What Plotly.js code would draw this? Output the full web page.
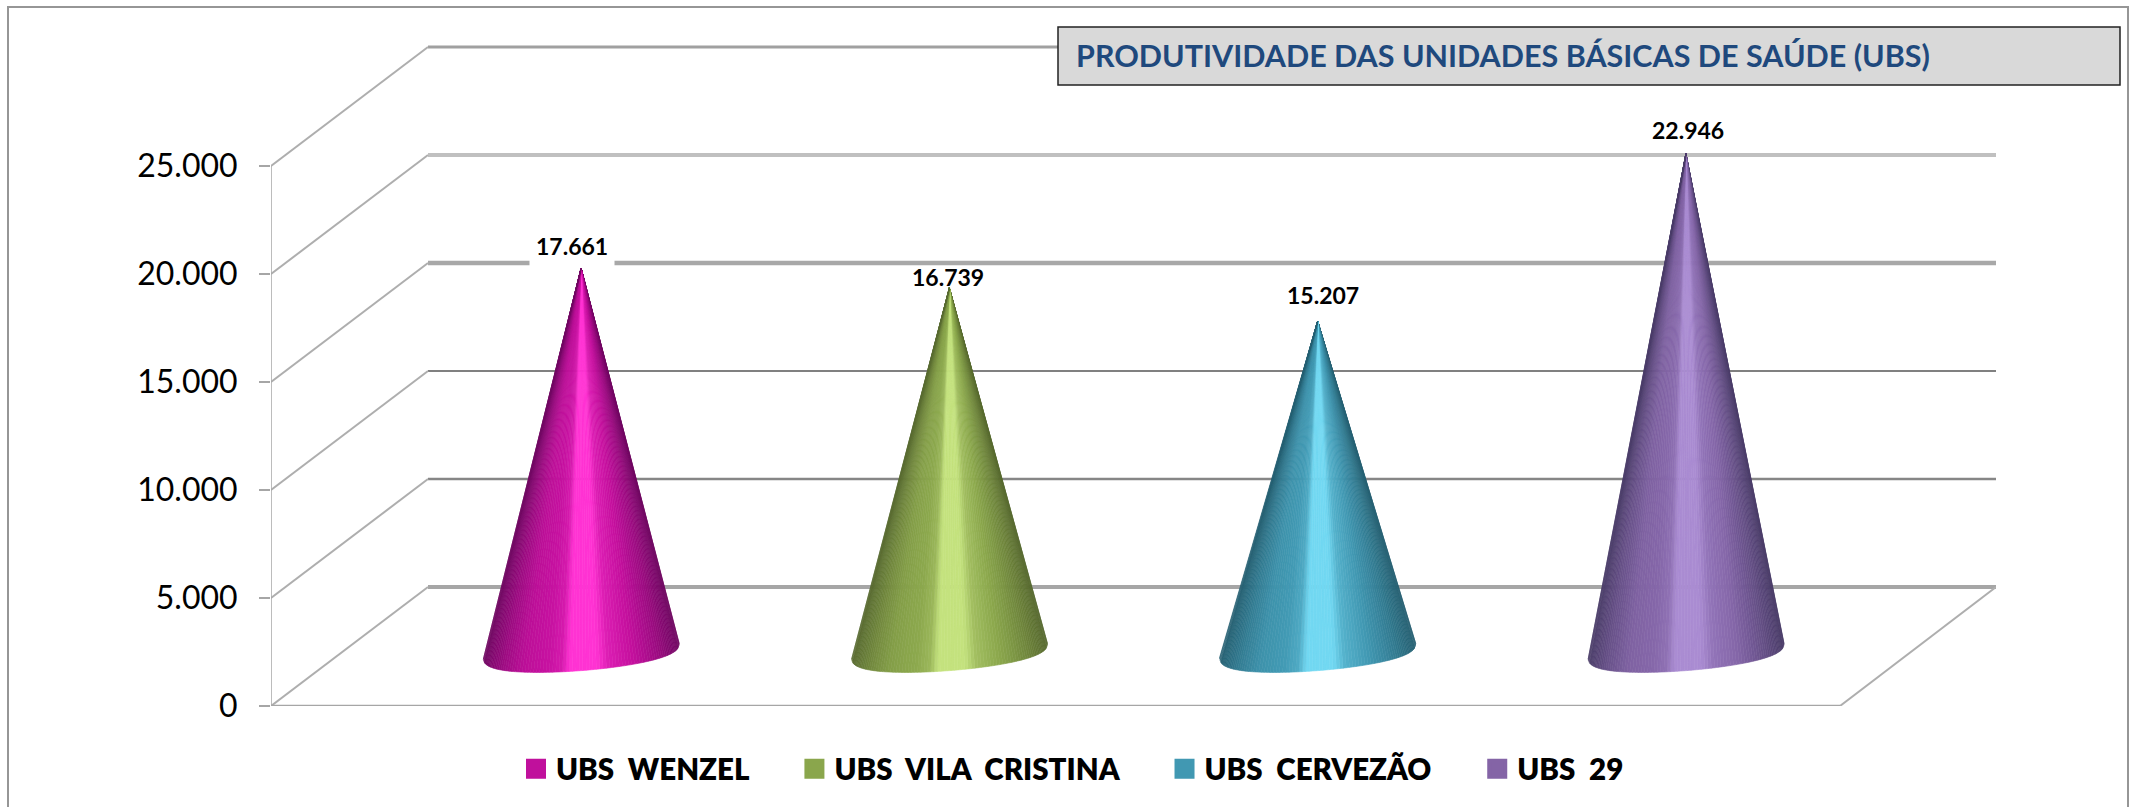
<!DOCTYPE html>
<html><head><meta charset="utf-8">
<script src="https://cdn.plot.ly/plotly-3.0.1.min.js"></script>
<style>html,body{margin:0;padding:0;background:#fff;overflow:hidden}#chart{width:2136px;height:807px}</style>
</head><body><div id="chart"></div>
<script>
// ---- data ----
const categories = ["UBS WENZEL", "UBS VILA CRISTINA", "UBS CERVEZÃO", "UBS 29"];
const values = [17661, 16739, 15207, 22946];
const tickValues = [0, 5000, 10000, 15000, 20000, 25000];
const tickLabels = ["0", "5.000", "10.000", "15.000", "20.000", "25.000"];
const chartTitle = "PRODUTIVIDADE DAS UNIDADES BÁSICAS DE SAÚDE (UBS)";

// ---- styles ----
const legendColors = ["#c0109c", "#8aa64c", "#4198b2", "#8464a6"];
const palettes = [
  {dark:[112,8,98],  mid:[196,16,158], bright:[255,51,211]},
  {dark:[88,106,48], mid:[138,166,76], bright:[196,226,126]},
  {dark:[38,96,114], mid:[65,152,178], bright:[114,216,242]},
  {dark:[74,60,104], mid:[132,102,168], bright:[170,140,210]}
];
const shadeStops = [[0,-1],[0.04,-0.75],[0.1,-0.45],[0.2,-0.1],[0.33,0.05],[0.4,0.3],[0.44,1],[0.58,1],[0.64,0.4],[0.78,-0.05],[0.9,-0.5],[1,-1]];
const wallColors = ["#a6a6a6","#868686","#808080","#a8a8a8","#c0c0c0","#a0a0a0"];
const wallWidths = [4,2.5,2,4.5,4,3];
const labelShift = [[-9,22],[-1,11],[5,26],[2,24]];

// ---- plot frame in page pixels ----
const L=271,R=1996,T=40,B=706;
const xMin=0.158,xMax=4.842,yMax=30833;
const pxX=(xMax-xMin)/(R-L), pxY=yMax/(B-T);
const depthX=157*pxX, depthY=119*pxY;       // oblique 3D offset of the back wall
const floorRight=xMin+(1840-L)*pxX;
const baseY=56.5*pxY, coneA=98, coneB=21, tilt=0.08, slices=90;
const paperX=x=>(x-L)/(R-L), paperY=y=>(B-y)/(B-T);

function lerpColor(p,w){
  const a=p.mid, b=w<0?p.dark:p.bright, k=Math.abs(w);
  return 'rgb('+a.map((v,i)=>Math.round(v+(b[i]-v)*k)).join(',')+')';
}
function shade(f){
  for(let i=1;i<shadeStops.length;i++){
    if(f<=shadeStops[i][0]){
      const [f0,w0]=shadeStops[i-1],[f1,w1]=shadeStops[i];
      return w0+(w1-w0)*(f-f0)/(f1-f0);
    }
  }
  return -1;
}

const traces=[];
const lineTrace=(x,y,color,width)=>traces.push({x,y,mode:'lines',line:{color,width},
  hoverinfo:'skip',showlegend:false,cliponaxis:false,type:'scatter'});

// back wall lines and oblique side lines
tickValues.forEach((v,i)=>{
  lineTrace([xMin+depthX,xMax],[v+depthY,v+depthY],wallColors[i],wallWidths[i]);
  lineTrace([xMin,xMin+depthX],[v,v+depthY],'#aeaeae',2);
});
lineTrace([floorRight,xMax],[0,depthY],'#aeaeae',2);
lineTrace([xMin,xMin],[0,tickValues[tickValues.length-1]],'#a6a6a6',1.5);
lineTrace([xMin,floorRight],[0,0],'#a6a6a6',2.5);

// cones: fans of thin slices from the tip down to the tilted base ellipse
categories.forEach((c,ci)=>{
  const cx=ci+1, tipY=baseY+values[ci], pal=palettes[ci];
  const pts=[];
  for(let i=0;i<=slices;i++){
    const t=Math.PI*i/slices;
    const s=Math.pow(Math.sin(t),0.7);
    const dx=coneA*Math.cos(t)+tilt*coneB*s;
    const dy=coneB*s-tilt*coneA*Math.cos(t);
    pts.push({x:cx+dx*pxX,y:baseY-dy*pxY,dx});
  }
  for(let i=0;i<slices;i++){
    const a=pts[i],b=pts[i+1];
    const f=(((a.dx+b.dx)/2)+coneA)/(2*coneA);
    const col=lerpColor(pal,shade(Math.max(0,Math.min(1,f))));
    traces.push({x:[cx,a.x,b.x,cx],y:[tipY,a.y,b.y,tipY],mode:'lines',fill:'toself',
      fillcolor:col,line:{color:col,width:0.6},hoverinfo:'skip',showlegend:false,type:'scatter'});
  }
});

// legend entries
categories.forEach((c,i)=>{
  traces.push({x:[null],y:[null],type:'scatter',mode:'markers',
    name:c.replace(/ /g,'\u00a0\u00a0')+'\u00a0\u00a0\u00a0\u00a0\u00a0\u00a0',
    marker:{symbol:'square',size:16,color:legendColors[i],line:{color:legendColors[i],width:4}}});
});

const fmt=v=>String(v).replace(/\B(?=(\d{3})+$)/g,'.');
const annotations=values.map((v,i)=>({
  x:i+1,y:baseY+v,xref:'x',yref:'y',text:'<b>'+fmt(v)+'</b>',showarrow:false,
  xanchor:'center',yanchor:'middle',xshift:labelShift[i][0],yshift:labelShift[i][1],
  font:{family:'Lato',size:23,color:'#000'},
  bgcolor:i===0?'#fff':'rgba(0,0,0,0)',borderpad:i===0?6:0
}));

const layout={
  width:2136,height:807,
  margin:{l:L,r:2136-R,t:T,b:807-B,pad:0,autoexpand:false},
  paper_bgcolor:'#fff',plot_bgcolor:'rgba(0,0,0,0)',
  font:{family:'Lato',color:'#000'},
  title:{text:chartTitle,xref:'container',yref:'container',x:1076/2136,xanchor:'left',
    y:1-56/807,yanchor:'middle',font:{family:'Lato',size:30.5,weight:700,color:'#1f497d'},pad:{l:0,r:0,t:0,b:0}},
  showlegend:true,
  legend:{orientation:'h',xref:'paper',yref:'paper',x:paperX(516),y:paperY(743),xanchor:'left',yanchor:'top',
    font:{family:'Lato',size:29.5,weight:800,color:'#000'},bgcolor:'rgba(0,0,0,0)',borderwidth:0,itemclick:false,itemdoubleclick:false},
  xaxis:{range:[xMin,xMax],visible:false,fixedrange:true},
  yaxis:{range:[0,yMax],tickmode:'array',tickvals:tickValues,ticktext:tickLabels,showgrid:false,zeroline:false,showline:false,
    ticks:'outside',ticklen:11,tickwidth:1.5,tickcolor:'#a6a6a6',tickfont:{family:'Lato',size:32,color:'#000'},
    ticklabelstandoff:15,fixedrange:true},
  shapes:[
    {type:'rect',xref:'paper',yref:'paper',x0:paperX(8),x1:paperX(2128),y0:paperY(830),y1:paperY(7),
      line:{color:'#969696',width:2},fillcolor:'rgba(0,0,0,0)',layer:'below'},
    {type:'rect',xref:'paper',yref:'paper',x0:paperX(1058),x1:paperX(2120),y0:paperY(85),y1:paperY(27),
      line:{color:'#222',width:1.5},fillcolor:'#d9d9d9',layer:'above'}
  ],
  annotations
};
Plotly.newPlot('chart',traces,layout,{displayModeBar:false,staticPlot:true});
</script></body></html>
